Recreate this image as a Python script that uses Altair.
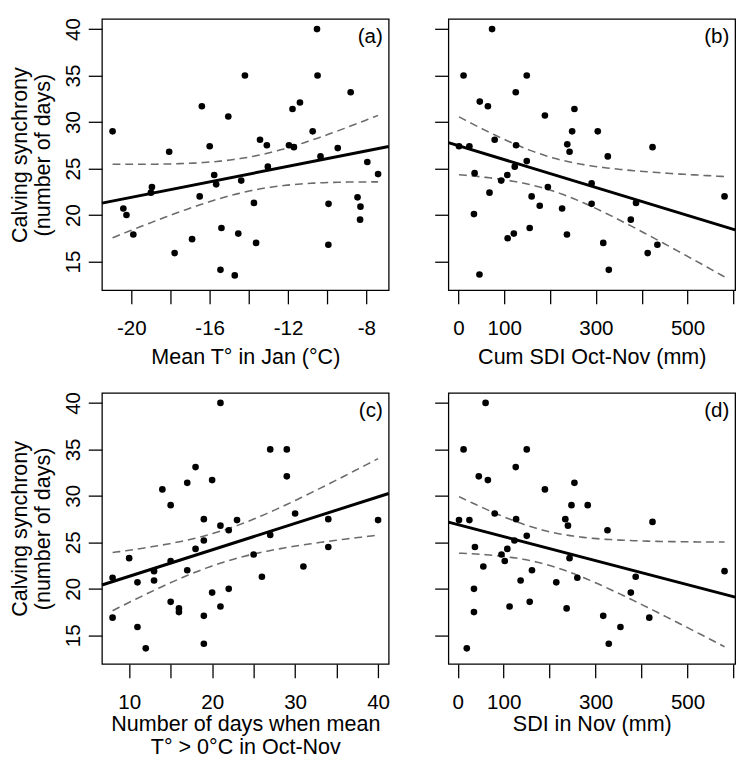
import altair as alt
import numpy as np
import pandas as pd

FONT = "Liberation Sans"

# ---------------- data ----------------
# (a) Mean temperature in January (°C) vs calving synchrony (days)
jan_t = [-20.96, -20.41, -20.25, -19.9, -18.95, -19.0, -18.07, -17.79, -16.9, -16.51,
         -16.4, -16.0, -15.77, -15.67, -15.45, -15.4, -15.05, -14.72, -14.54, -14.39,
         -14.2, -13.74, -13.63, -13.43, -13.08, -13.03, -11.95, -11.7, -11.77, -11.39,
         -10.74, -10.52, -10.49, -10.34, -9.93, -9.94, -9.46, -8.8, -8.45, -8.3,
         -8.32, -7.95, -7.4]
sync_a = [29.0, 20.7, 20.0, 17.9, 23.0, 22.4, 26.8, 15.9, 17.4, 22.0,
          31.7, 27.4, 24.3, 23.3, 14.1, 18.6, 30.6, 13.5, 18.0, 23.7,
          35.0, 21.3, 17.0, 28.1, 27.5, 25.2, 27.5, 27.3, 31.4, 32.1,
          29.0, 40.0, 35.0, 26.3, 21.2, 16.8, 27.2, 33.2, 21.9, 20.9,
          19.5, 25.7, 24.4]

# (b) Cumulative SDI Oct-Nov (mm)
cum_sdi = [1.4, 24, 11.3, 35.4, 34, 46, 46.7, 64.4, 67.9, 73.5,
           79.2, 93.4, 106.8, 107.5, 121, 123, 125.2, 125.9, 149.2, 149.2,
           155.6, 159.8, 177.5, 188.8, 195.2, 226.3, 236.9, 237.6, 242.6, 248.2,
           253.2, 290.7, 290.7, 304.1, 316.1, 326, 328.2, 376.2, 387.6, 413,
           423.6, 434.2, 580.7]
sync_b = [27.4, 27.4, 35.0, 24.5, 20.1, 13.6, 32.2, 31.7, 22.4, 40.0,
          28.1, 23.7, 24.3, 17.5, 18.0, 25.2, 33.2, 27.5, 35.0, 25.8,
          18.6, 22.0, 21.0, 30.7, 23.0, 20.7, 17.9, 27.6, 26.8, 29.0,
          31.4, 23.4, 21.2, 29.0, 17.0, 26.3, 14.1, 19.5, 21.3, 15.9,
          27.3, 16.8, 22.0]

# (c) Number of days when mean T° > 0°C in Oct-Nov
# (axis limited to 8-40 days; the last two years fall beyond it and are clipped)
warm_days = [8, 8, 10, 11, 11, 12, 13, 13, 14, 15,
             15, 15, 16, 16, 17, 17, 18, 18, 19, 19,
             19, 19, 20, 20, 21, 21, 21, 22, 22, 23,
             25, 26, 27, 27, 29, 29, 30, 31, 34, 34,
             40, 42, 43.3]
sync_c = [16.9, 21.2, 23.3, 20.7, 15.9, 13.6, 21.9, 20.9, 30.7, 23.0,
          29.0, 18.6, 17.9, 17.5, 31.4, 22.0, 33.1, 24.3, 27.5, 25.2,
          17.1, 14.1, 31.7, 19.6, 40.0, 26.8, 18.1, 26.3, 20.0, 27.4,
          23.7, 21.3, 35.0, 25.8, 35.0, 32.1, 28.1, 22.4, 27.5, 24.5,
          27.4, 29.0, 27.3]
warm_days_limits = [8, 40]

# (d) SDI in November (mm)
nov_sdi = [2.8, 25.4, 12.7, 19.7, 37.4, 35.3, 35.3, 45.8, 55.7, 60.6,
           65.6, 80.4, 95.2, 102.3, 107.9, 112.8, 123.4, 126.2, 127, 136.8,
           150.2, 150.2, 156.6, 161.5, 189.7, 214.4, 234.1, 236.9, 239.8, 243.3,
           247.5, 253.9, 260.2, 282.8, 316.6, 325.8, 328.6, 354, 376.6, 387.2,
           416.8, 423.8, 580.5]
sync_d = [27.4, 27.4, 35.0, 13.6, 24.5, 20.0, 17.5, 32.1, 22.4, 40.0,
          31.7, 28.1, 23.7, 23.0, 24.3, 18.1, 25.2, 33.1, 27.5, 20.9,
          35.0, 25.7, 18.6, 22.0, 30.7, 20.7, 27.5, 17.9, 26.8, 23.3,
          29.0, 31.4, 21.2, 29.0, 17.1, 26.3, 14.1, 15.9, 19.6, 21.3,
          16.9, 27.2, 21.9]

y_ticks = [15, 20, 25, 30, 35, 40]
y_limits = [13, 40]

panels = [
    dict(tag="(a)", x=jan_t, y=sync_a, title="Mean T° in Jan (°C)",
         ticks=[-20, -18, -16, -14, -12, -10, -8],
         shown=[-20, -16, -12, -8]),
    dict(tag="(b)", x=cum_sdi, y=sync_b, title="Cum SDI Oct-Nov (mm)",
         ticks=[0, 100, 200, 300, 400, 500, 600],
         shown=[0, 100, 300, 500]),
    dict(tag="(c)", x=warm_days, y=sync_c, lim=warm_days_limits,
         title=["Number of days when mean", "T° > 0°C in Oct-Nov"],
         ticks=[10, 15, 20, 25, 30, 35, 40],
         shown=[10, 20, 30, 40]),
    dict(tag="(d)", x=nov_sdi, y=sync_d, title="SDI in Nov (mm)",
         ticks=[0, 100, 200, 300, 400, 500, 600],
         shown=[0, 100, 300, 500]),
]

W, H = 293, 277


def t975(v):
    z = 1.959964
    return (z + (z**3 + z) / (4 * v) + (5 * z**5 + 16 * z**3 + 3 * z) / (96 * v**2)
            + (3 * z**7 + 19 * z**5 + 17 * z**3 - 15 * z) / (384 * v**3))


def pad_range(lo, hi):
    r = hi - lo
    return [lo - 0.04 * r, hi + 0.04 * r]


def make_panel(p, left, bottom_row):
    x = np.asarray(p["x"], float)
    y = np.asarray(p["y"], float)
    n = len(x)
    xm, ym = x.mean(), y.mean()
    sxx = ((x - xm) ** 2).sum()
    b1 = ((x - xm) * (y - ym)).sum() / sxx
    b0 = ym - b1 * xm
    s2 = ((y - (b0 + b1 * x)) ** 2).sum() / (n - 2)
    tq = t975(n - 2)
    lim = p.get("lim", [x.min(), x.max()])
    xdom = pad_range(*lim)
    ydom = pad_range(*y_limits)

    g = np.linspace(lim[0], lim[1], 80)
    se = np.sqrt(s2 * (1.0 / n + (g - xm) ** 2 / sxx))
    fitg = b0 + b1 * g
    ci_df = pd.concat([
        pd.DataFrame({"x": g, "y": fitg + tq * se, "bound": "upper"}),
        pd.DataFrame({"x": g, "y": fitg - tq * se, "bound": "lower"}),
    ])
    fit_df = pd.DataFrame({"x": xdom, "y": [b0 + b1 * v for v in xdom]})
    pts_df = pd.DataFrame({"x": x, "y": y})

    shown = p["shown"]
    lab_expr = ("indexof(%s, datum.value) >= 0 ? "
                "(datum.value < 0 ? '-' + abs(datum.value) : '' + datum.value) : ''"
                % str(shown))
    xaxis = alt.Axis(values=p["ticks"], labelExpr=lab_expr, title=p["title"],
                     tickSize=14, labelPadding=14,
                     titlePadding=2 if bottom_row else 9,
                     titleLineHeight=24,
                     labelFlush=False, labelOverlap=False)
    if left:
        yaxis = alt.Axis(values=y_ticks, title=["Calving synchrony", "(number of days)"],
                         tickSize=14, labelAngle=270, labelAlign="center",
                         labelBaseline="alphabetic", labelPadding=9,
                         titlePadding=9, titleLineHeight=23, labelFlush=False)
    else:
        yaxis = alt.Axis(values=y_ticks, title=None, labels=False, tickSize=14)

    X = alt.X("x:Q", scale=alt.Scale(domain=xdom, nice=False, zero=False), axis=xaxis)
    Y = alt.Y("y:Q", scale=alt.Scale(domain=ydom, nice=False, zero=False), axis=yaxis)

    ci = alt.Chart(ci_df).mark_line(color="#6b6b6b", strokeDash=[8, 5],
                                    strokeWidth=1.6).encode(x=X, y=Y, detail="bound:N")
    fit = alt.Chart(fit_df).mark_line(color="black", strokeWidth=3).encode(x=X, y=Y)
    pts = alt.Chart(pts_df).mark_circle(size=46, color="black", opacity=1,
                                        clip=True).encode(x=X, y=Y)
    tag = alt.Chart(pd.DataFrame({"t": [p["tag"]]})).mark_text(
        align="right", baseline="top", fontSize=21, font=FONT, color="black"
    ).encode(x=alt.value(W - 6), y=alt.value(8), text="t:N")
    return alt.layer(ci, fit, pts, tag).properties(width=W, height=H)


row1 = alt.hconcat(make_panel(panels[0], True, False),
                   make_panel(panels[1], False, False), spacing=38)
row2 = alt.hconcat(make_panel(panels[2], True, True),
                   make_panel(panels[3], False, True), spacing=38)
chart = alt.vconcat(row1, row2, spacing=22).properties(
    padding={"left": 0, "top": 0, "right": 0, "bottom": 0},
    background="white"
).configure_view(
    stroke="black", strokeWidth=1.3, fill="white"
).configure_axis(
    grid=False, domain=False, tickColor="black", tickWidth=1.3,
    labelFont=FONT, labelFontSize=21, labelColor="black",
    titleFont=FONT, titleFontSize=22, titleFontWeight="normal", titleColor="black"
)

chart.save("out.html", embed_options={"renderer": "svg", "actions": False})
